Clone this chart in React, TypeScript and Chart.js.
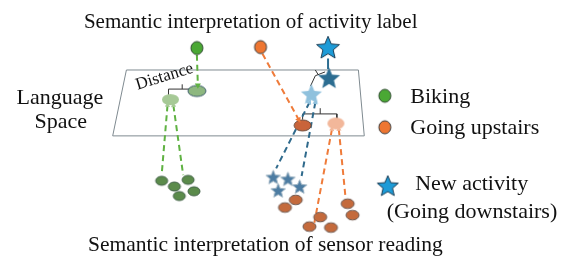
import React, { useEffect, useRef } from "react";
import { Chart, registerables } from "chart.js";
Chart.register(...registerables);

// ---------- data ----------
const activityNames = ["Biking", "Going upstairs", "New activity", "(Going downstairs)"];
const titleTop = "Semantic interpretation of activity label";
const titleBottom = "Semantic interpretation of sensor reading";
const spaceLabel = ["Language", "Space"];
const distanceLabel = "Distance";

// language plane outline
const planeX = [123, 360, 366, 109, 123];
const planeY = [67, 67, 136, 136, 67];

// label anchors (biking, upstairs, downstairs)
const labelX = [195, 260, 329];
const labelY = [44, 43, 43];
// label embeddings on the plane
const labelEmbX = [195, 303, 330];
const labelEmbY = [89, 125, 75];
// sensor embeddings on the plane
const sensorEmbX = [168, 337, 312];
const sensorEmbY = [98, 123, 92];

// sensor readings
const bikingX = [159, 172, 186, 192, 177];
const bikingY = [183, 189, 182, 194, 199];
const upstairsX = [296, 285, 321, 310, 332, 349, 354];
const upstairsY = [203, 211, 221, 231, 232, 207, 219];
const downstairsX = [273, 288, 278, 300];
const downstairsY = [179, 181, 193, 189];

// connector lines [x0, y0, x1, y1]
const labelLinks = [
  [195, 51, 196, 83],
  [262, 50, 299, 119],
];
const starLink = [329, 55, 329, 66];
const readingLinks = [
  [165, 104, 159, 177, 0],
  [171, 104, 181, 177, 0],
  [333, 129, 315, 227, 1],
  [340, 129, 347, 202, 1],
  [310, 101, 276, 170, 2],
  [316, 101, 302, 178, 2],
];
// distance brackets
const bracketPaths = [
  { x: [166, 166, 194, 194], y: [93, 87, 87, 84] },
  { x: [180, 180], y: [87, 82] },
  { x: [303, 303, 338, 338], y: [119, 113, 113, 118] },
  { x: [321, 321], y: [113, 107] },
  { x: [311, 316, 326], y: [84, 73, 69] },
  { x: [319, 316], y: [72, 67] },
];

// ---------- styles ----------
const GREEN = "#4aa834";
const GREEN_LINE = "#5fb242";
const ORANGE = "#ee7631";
const ORANGE_LINE = "#ef7b3a";
const BLUE = "#1d9bd7";
const BLUE_LINE = "#2f6a8c";
const FONT = "'Liberation Serif', 'Times New Roman', serif";

function makeEllipse(rx: number, ry: number, fill: string, stroke: string | null, lw = 1) {
  const c = document.createElement("canvas");
  c.width = Math.ceil(rx * 2 + 4);
  c.height = Math.ceil(ry * 2 + 4);
  const g = c.getContext("2d")!;
  g.beginPath();
  g.ellipse(c.width / 2, c.height / 2, rx, ry, 0, 0, Math.PI * 2);
  g.fillStyle = fill;
  g.fill();
  if (stroke) {
    g.lineWidth = lw;
    g.strokeStyle = stroke;
    g.stroke();
  }
  return c;
}

function makeStar(r: number, fill: string, stroke: string | null, lw = 1) {
  const size = Math.ceil(r * 2 + 4);
  const c = document.createElement("canvas");
  c.width = size;
  c.height = size;
  const g = c.getContext("2d")!;
  const cx = size / 2, cy = size / 2 + r * 0.1;
  const inner = r * 0.45;
  g.beginPath();
  for (let i = 0; i < 10; i++) {
    const rr = i % 2 === 0 ? r : inner;
    const a = -Math.PI / 2 + (i * Math.PI) / 5;
    const px = cx + rr * Math.cos(a), py = cy + rr * Math.sin(a);
    if (i === 0) g.moveTo(px, py); else g.lineTo(px, py);
  }
  g.closePath();
  g.fillStyle = fill;
  g.fill();
  if (stroke) {
    g.lineWidth = lw;
    g.strokeStyle = stroke;
    g.stroke();
  }
  return c;
}

function pts(xs: number[], ys: number[]) {
  return xs.map((x, i) => ({ x, y: ys[i] }));
}

function lineDs(xs: number[], ys: number[], color: string, width: number, dash: number[], order: number) {
  return {
    data: pts(xs, ys),
    showLine: true,
    borderColor: color,
    borderWidth: width,
    borderDash: dash,
    pointRadius: 0,
    fill: false,
    tension: 0,
    order,
    clip: false as any,
  };
}

function markDs(xs: number[], ys: number[], style: any, order: number) {
  return {
    data: pts(xs, ys),
    showLine: false,
    pointStyle: style,
    pointRadius: 5,
    order,
    clip: false as any,
  };
}

function arrowDs(x: number, y: number, dx: number, dy: number, color: string, r: number, order: number) {
  const rot = (Math.atan2(dx, -dy) * 180) / Math.PI;
  return {
    data: [{ x, y }],
    showLine: false,
    pointStyle: "triangle",
    pointRadius: r,
    pointRotation: rot,
    backgroundColor: color,
    borderColor: color,
    borderWidth: 0,
    order,
    clip: false as any,
  };
}

const textPlugin = {
  id: "diagramText",
  afterDraw(chart: any) {
    const { ctx } = chart;
    const sx = chart.scales.x, sy = chart.scales.y;
    const items = [
      { t: titleTop, x: 250, y: 17, s: 21, a: "center", r: 0 },
      { t: titleBottom, x: 265, y: 251, s: 21.5, a: "center", r: 0 },
      { t: spaceLabel[0], x: 55, y: 97, s: 22, a: "center", r: 0 },
      { t: spaceLabel[1], x: 56, y: 122, s: 22, a: "center", r: 0 },
      { t: activityNames[0], x: 413, y: 95, s: 22, a: "left", r: 0 },
      { t: activityNames[1], x: 413, y: 128, s: 22, a: "left", r: 0 },
      { t: activityNames[2], x: 418, y: 187, s: 22, a: "left", r: 0 },
      { t: activityNames[3], x: 389, y: 216, s: 22, a: "left", r: 0 },
      { t: distanceLabel, x: 162, y: 74, s: 17, a: "center", r: -17 },
    ];
    ctx.save();
    ctx.fillStyle = "#111";
    ctx.textBaseline = "middle";
    for (const it of items) {
      ctx.save();
      ctx.translate(sx.getPixelForValue(it.x), sy.getPixelForValue(it.y));
      ctx.rotate((it.r * Math.PI) / 180);
      ctx.font = `${it.s}px ${FONT}`;
      ctx.textAlign = it.a;
      ctx.fillText(it.t, 0, 0);
      ctx.restore();
    }
    ctx.restore();
  },
};

export default function App() {
  const ref = useRef<HTMLCanvasElement | null>(null);
  useEffect(() => {
    if (!ref.current) return;

    const pinGreen = makeEllipse(6, 6.5, GREEN, "#2f4a30");
    const pinOrange = makeEllipse(6, 6.5, ORANGE, "#3b3b3b");
    const starTop = makeStar(12, BLUE, "#1b3d55");
    const embGreen = makeEllipse(9, 5.5, "#8db77f", "#3d5c6e");
    const embOrange = makeEllipse(8.5, 5.5, "#c9643a", "#6b4a3a");
    const embStar = makeStar(11.5, "#2c6d91", null);
    const sensGreen = makeEllipse(8.5, 5.5, "#a6c996", null);
    const sensOrange = makeEllipse(8.5, 6, "#f2b79a", null);
    const sensStar = makeStar(11, "#8fc1dd", null);
    const readGreen = makeEllipse(6, 4.5, "#5b8b4b", "#3f5f45");
    const readOrange = makeEllipse(6.5, 4.8, "#c46a3c", "#6e5a52");
    const readStar = makeStar(7.5, "#4c7ca2", "#9ab0c0");
    const legGreen = makeEllipse(6, 6.5, GREEN, "#2f4a30");
    const legOrange = makeEllipse(6, 6.5, ORANGE, "#3b3b3b");
    const legStar = makeStar(11, BLUE, "#1b3d55");

    const readColors = [GREEN_LINE, ORANGE_LINE, BLUE_LINE];
    const fadedArrow = ["#a6c996", "#f2b79a", "#8fc1dd"];

    const datasets: any[] = [
      lineDs(planeX, planeY, "#7f8a90", 1, [], 40),
      ...bracketPaths.map((b) => lineDs(b.x, b.y, "#333333", 1, [], 30)),
      ...readingLinks.map((l) => lineDs([l[0], l[2]], [l[1], l[3]], readColors[l[4]], 2, [6, 4], 25)),
      lineDs([labelLinks[0][0], labelLinks[0][2]], [labelLinks[0][1], labelLinks[0][3]], GREEN_LINE, 2, [6, 4], 25),
      lineDs([labelLinks[1][0], labelLinks[1][2]], [labelLinks[1][1], labelLinks[1][3]], ORANGE_LINE, 2, [6, 4], 25),
      lineDs([starLink[0], starLink[2]], [starLink[1], starLink[3]], "#2c6d91", 2, [], 25),
      arrowDs(labelLinks[0][2], labelLinks[0][3], 0, 1, GREEN_LINE, 3.5, 5),
      arrowDs(labelLinks[1][2], labelLinks[1][3], labelLinks[1][2] - labelLinks[1][0], labelLinks[1][3] - labelLinks[1][1], ORANGE_LINE, 3.5, 5),
      ...readingLinks.map((l) => arrowDs(l[0], l[1], l[0] - l[2], l[1] - l[3], fadedArrow[l[4]], 3, 12)),
      markDs([sensorEmbX[0]], [sensorEmbY[0]], sensGreen, 15),
      markDs([sensorEmbX[1]], [sensorEmbY[1]], sensOrange, 15),
      markDs([sensorEmbX[2]], [sensorEmbY[2]], sensStar, 15),
      markDs([labelEmbX[0]], [labelEmbY[0]], embGreen, 10),
      markDs([labelEmbX[1]], [labelEmbY[1]], embOrange, 10),
      markDs([labelEmbX[2]], [labelEmbY[2]], embStar, 10),
      markDs([labelX[0]], [labelY[0]], pinGreen, 10),
      markDs([labelX[1]], [labelY[1]], pinOrange, 10),
      markDs([labelX[2]], [labelY[2]], starTop, 10),
      markDs(bikingX, bikingY, readGreen, 10),
      markDs(upstairsX, upstairsY, readOrange, 10),
      markDs(downstairsX, downstairsY, readStar, 10),
      markDs([387], [94], legGreen, 10),
      markDs([387], [127], legOrange, 10),
      markDs([390], [188], legStar, 10),
    ];

    const chart = new Chart(ref.current, {
      type: "scatter",
      data: { datasets },
      options: {
        animation: false,
        responsive: false,
        layout: { padding: 0 },
        events: [],
        scales: {
          x: { type: "linear", min: 0, max: 568, display: false },
          y: { type: "linear", min: 0, max: 267, reverse: true, display: false },
        },
        plugins: {
          legend: { display: false },
          tooltip: { enabled: false },
          title: { display: false },
        },
      },
      plugins: [textPlugin],
    } as any);
    return () => chart.destroy();
  }, []);

  return (
    <div style={{ position: "absolute", left: 0, top: 0, width: 568, height: 267, background: "#fff" }}>
      <canvas ref={ref} width={568} height={267} style={{ display: "block", width: 568, height: 267 }} />
    </div>
  );
}
